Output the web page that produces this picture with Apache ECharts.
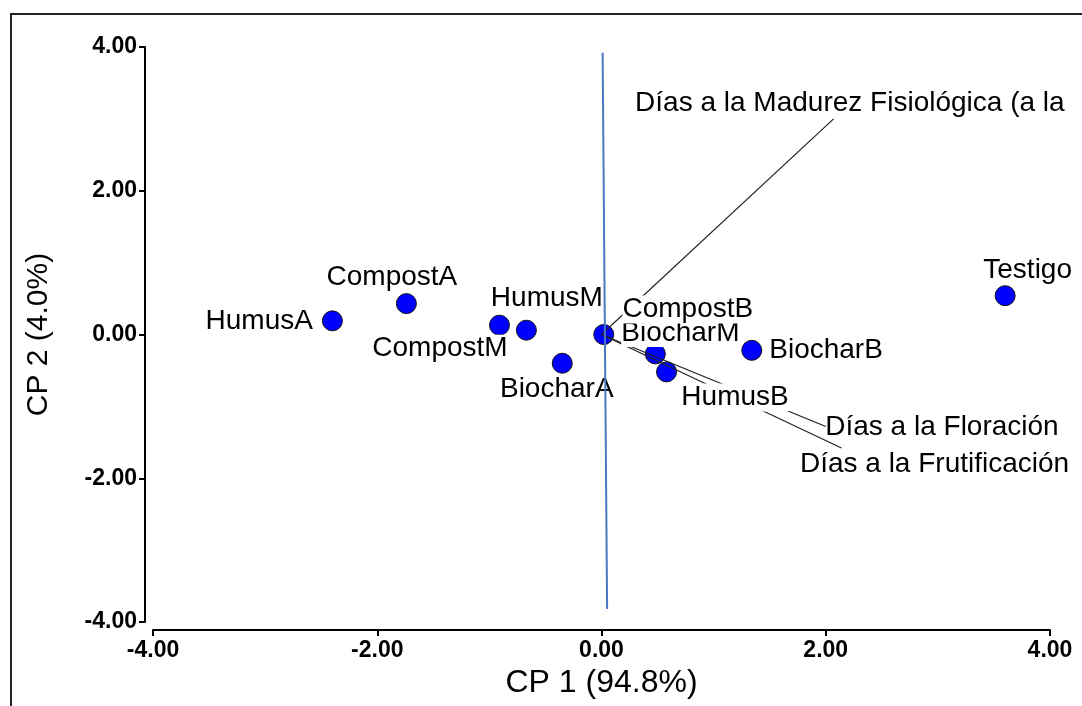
<!DOCTYPE html>
<html lang="es">
<head>
    <meta charset="utf-8" />
    <title>Biplot CP1 vs CP2</title>
    <script src="https://cdn.jsdelivr.net/npm/echarts@6/dist/echarts.min.js"></script>
    <style>
        html, body { margin: 0; padding: 0; background: #fff; }
    </style>
</head>
<body>
    <div id="main" style="width:1082px;height:706px;"></div>
    <script>
        // tratamientos (observaciones)
        var pointNames = ['HumusA', 'CompostA', 'CompostM', 'HumusM', 'BiocharA', 'BiocharM', 'CompostB', 'HumusB', 'BiocharB', 'Testigo'];
        var pointX = [-2.40, -1.74, -0.91, -0.67, -0.35, 0.02, 0.48, 0.58, 1.34, 3.60];
        var pointY = [0.19, 0.43, 0.13, 0.06, -0.40, 0.00, -0.27, -0.52, -0.22, 0.54];

        // variables (vectores)
        var vectorNames = ['Días a la Floración', 'Días a la Frutificación', 'Días a la Madurez Fisiológica (a la'];
        var vectorX = [2.00, 2.14, 2.07];
        var vectorY = [-1.28, -1.58, 3.00];

        // linea azul casi vertical
        var refLineX = [0.01, 0.05];
        var refLineY = [3.92, -3.82];

        // donde va cada etiqueta respecto a su punto (px)
        var pointLabelPos = {
            HumusA: { pos: [-19, 1], align: 'right' },
            CompostA: { pos: [-14, -26], align: 'center' },
            CompostM: { pos: [-59, 24], align: 'center' },
            HumusM: { pos: [21, -31], align: 'center' },
            BiocharA: { pos: [-5, 27], align: 'center' },
            BiocharM: { pos: [18, -1], align: 'left' },
            CompostB: { pos: [33, -44], align: 'center' },
            HumusB: { pos: [69, 26], align: 'center' },
            BiocharB: { pos: [18, 0], align: 'left' },
            Testigo: { pos: [23, -25], align: 'center' }
        };
        var vectorLabelPos = [[0, 1], [-41, 17], [-198, -15]];

        var chart = echarts.init(document.getElementById('main'));
        var font = '"Liberation Sans", Arial, sans-serif';

        var points = pointNames.map(function (n, i) { return [pointX[i], pointY[i]]; });
        var pointLabels = pointNames.map(function (n, i) {
            var p = pointLabelPos[n];
            return {
                value: [pointX[i], pointY[i]],
                name: n,
                label: { position: p.pos, align: p.align }
            };
        });
        var vectorSeries = vectorNames.map(function (n, i) {
            return {
                type: 'line',
                z: 3,
                silent: true,
                symbol: 'none',
                lineStyle: { color: '#222', width: 1.2 },
                data: [[0, 0], [vectorX[i], vectorY[i]]]
            };
        });
        var vectorLabels = vectorNames.map(function (n, i) {
            return {
                value: [vectorX[i], vectorY[i]],
                name: n,
                label: { position: vectorLabelPos[i], align: 'left' }
            };
        });

        var axisCommon = {
            type: 'value',
            min: -4,
            max: 4,
            interval: 2,
            offset: 8,
            splitLine: { show: false },
            axisLine: { show: true, onZero: false, lineStyle: { color: '#000', width: 2 } },
            axisTick: { show: true, length: 6, lineStyle: { color: '#000', width: 2 } },
            axisLabel: {
                color: '#000',
                fontFamily: font,
                fontWeight: 'bold',
                fontSize: 23,
                formatter: function (v) { return v.toFixed(2); }
            },
            nameLocation: 'middle',
            nameTextStyle: { color: '#000', fontFamily: font, fontSize: 30 }
        };

        var textLabel = {
            show: true,
            formatter: '{b}',
            verticalAlign: 'middle',
            color: '#000',
            fontFamily: font,
            fontSize: 28
        };

        var option = {
            animation: false,
            backgroundColor: '#fff',
            grid: { left: 153, right: 32, top: 47, bottom: 84 },
            xAxis: Object.assign({}, axisCommon, {
                name: 'CP 1 (94.8%)',
                nameGap: 36,
                nameTextStyle: { color: '#000', fontFamily: font, fontSize: 32 },
                axisLabel: Object.assign({}, axisCommon.axisLabel, { margin: 9 })
            }),
            yAxis: Object.assign({}, axisCommon, {
                name: 'CP 2 (4.0%)',
                nameGap: 91,
                axisLabel: Object.assign({}, axisCommon.axisLabel, { margin: 8 })
            }),
            graphic: [{
                type: 'rect',
                shape: { x: 11, y: 14, width: 1200, height: 800 },
                style: { fill: 'none', stroke: '#222', lineWidth: 2 },
                silent: true
            }],
            series: [
                {
                    type: 'scatter',
                    z: 2,
                    symbol: 'circle',
                    symbolSize: 20,
                    itemStyle: { color: '#0000ff', opacity: 1, borderColor: '#111', borderWidth: 1 },
                    data: points
                }
            ].concat(vectorSeries).concat([
                {
                    type: 'scatter',
                    z: 4,
                    symbolSize: 1,
                    itemStyle: { color: 'rgba(0,0,0,0)', opacity: 1 },
                    label: Object.assign({}, textLabel, { backgroundColor: '#fff' }),
                    data: pointLabels
                },
                {
                    type: 'scatter',
                    z: 4,
                    symbolSize: 1,
                    itemStyle: { color: 'rgba(0,0,0,0)', opacity: 1 },
                    label: textLabel,
                    data: vectorLabels
                },
                {
                    type: 'line',
                    z: 5,
                    silent: true,
                    symbol: 'none',
                    lineStyle: { color: '#4a78c0', width: 2 },
                    data: [[refLineX[0], refLineY[0]], [refLineX[1], refLineY[1]]]
                }
            ])
        };

        chart.setOption(option);
    </script>
</body>
</html>
